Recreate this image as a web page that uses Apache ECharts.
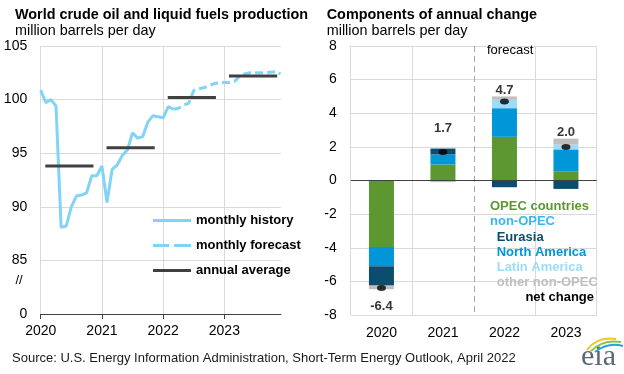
<!DOCTYPE html>
<html><head><meta charset="utf-8">
<script src="https://cdn.jsdelivr.net/npm/echarts@6/dist/echarts.min.js"></script>
<style>html,body{margin:0;padding:0;background:#fff}#c{width:624px;height:374px}</style>
</head><body><div id="c"></div>
<script>
// ---------- Left panel data ----------
const years = ['2020', '2021', '2022', '2023'];
const monthly2020 = [100.9, 99.7, 100.0, 99.4, 88.1, 88.2, 90.0, 91.0, 91.1, 91.3, 92.9, 92.9];
const monthly2021 = [93.8, 90.4, 93.5, 93.9, 94.8, 95.3, 96.9, 96.4, 96.55, 97.9, 98.5, 98.4];
const monthly2022 = [98.3, 99.35, 99.1, 99.2, 99.5, 99.65, 100.85, 101.0, 101.1, 101.3, 101.5, 101.55];
const monthly2023 = [101.6, 101.6, 101.7, 102.2, 102.4, 102.5, 102.5, 102.5, 102.5, 102.55, 102.6, 102.4];
const historyMonthCount = 27; // Jan 2020 - Mar 2022 are history
const annualAverage = [93.8, 95.5, 100.2, 102.2];
const leftYTicks = [80, 85, 90, 95, 100, 105];
const leftYTickLabels = ['0', '85', '90', '95', '100', '105'];

// ---------- Right panel data ----------
const opecCountries = [-3.95, 0.95, 2.6, 0.55];
const northAmerica = [-1.15, 0.6, 1.7, 1.3];
const eurasia = [-1.15, 0.35, -0.4, -0.5];
const latinAmerica = [0, 0, 0.5, 0.28];
const otherNonOpec = [-0.22, -0.1, 0.2, 0.36];
const netChange = [-6.4, 1.7, 4.7, 2.0];

// ---------- styles ----------
const FONT = '"Liberation Sans", Arial, Helvetica, sans-serif';
const C_GREEN = '#5d9732', C_NA = '#0096d7', C_EUR = '#0c4d6d', C_LAT = '#9ddcf7', C_OTH = '#bfbfbf';
const C_LINE = '#82d4f6', C_AVG = '#404040', C_GRID = '#d9d9d9';
const netLabelDy = [18, -23, -11.5, -14.4];
const ICON_SOLID = 'path://M0,0H38V3H0Z';
const ICON_DASH = 'path://M0,0H16V3H0Z M21,0H38V3H21Z';

const monthly = monthly2020.concat(monthly2021, monthly2022, monthly2023);
const historyData = [], forecastData = [];
monthly.forEach((v, i) => {
  if (i < historyMonthCount) historyData.push([i, v]);
  if (i >= historyMonthCount - 1) forecastData.push([i, v]);
});
const avgData = [];
annualAverage.forEach((v, i) => {
  avgData.push([12 * i + 0.9, v], [12 * i + 10.35, v], [12 * i + 11, '-']);
});

const chart = echarts.init(document.getElementById('c'), null, {renderer: 'canvas'});

const axisText = {fontSize: 14, color: '#000', fontFamily: FONT};

const option = {
  animation: false,
  backgroundColor: '#fff',
  grid: [
    {left: 40.7, top: 46, width: 240.3, height: 268},
    {left: 350.7, top: 46, width: 246, height: 269}
  ],
  legend: {
    data: [
      {name: 'monthly history', icon: ICON_SOLID},
      {name: 'monthly forecast', icon: ICON_DASH},
      {name: 'annual average', icon: ICON_SOLID}
    ],
    orient: 'vertical', left: 153, top: 214, padding: 0,
    itemWidth: 38, itemHeight: 3, itemGap: 12,
    selectedMode: false,
    textStyle: {fontSize: 13, fontWeight: 'bold', color: '#000', fontFamily: FONT}
  },
  xAxis: [
    {
      gridIndex: 0, type: 'value', min: 0, max: 47.1,
      axisLine: {show: true, onZero: false, lineStyle: {color: '#404040', width: 1}},
      axisTick: {show: true, length: 5, customValues: [0, 12, 24, 36], lineStyle: {color: '#404040'}},
      axisLabel: Object.assign({margin: 10, customValues: [0, 12, 24, 36],
        formatter: v => years[Math.round(v / 12)]}, axisText),
      splitLine: {show: true, lineStyle: {color: C_GRID, width: 1}}
    },
    {
      gridIndex: 1, type: 'category', data: years,
      axisLine: {show: false, onZero: false},
      axisTick: {show: false},
      axisLabel: Object.assign({margin: 11, interval: 0}, axisText),
      splitLine: {show: true, interval: 0, lineStyle: {color: [C_GRID, C_GRID, 'rgba(0,0,0,0)', C_GRID, C_GRID], width: 1}}
    }
  ],
  yAxis: [
    {
      gridIndex: 0, type: 'value', min: 80, max: 105, interval: 5,
      axisLine: {show: false}, axisTick: {show: false},
      axisLabel: Object.assign({margin: 13.5,
        formatter: v => leftYTickLabels[leftYTicks.indexOf(v)]}, axisText),
      splitLine: {show: true, lineStyle: {color: C_GRID, width: 1}}
    },
    {
      gridIndex: 1, type: 'value', min: -8, max: 8, interval: 2,
      axisLine: {show: false}, axisTick: {show: false},
      axisLabel: Object.assign({margin: 14}, axisText),
      splitLine: {show: true, lineStyle: {color: C_GRID, width: 1}}
    }
  ],
  series: [
    {
      name: 'monthly history', type: 'line', xAxisIndex: 0, yAxisIndex: 0,
      data: historyData, symbol: 'none', showSymbol: false,
      lineStyle: {color: C_LINE, width: 3}, itemStyle: {color: C_LINE}, z: 3
    },
    {
      name: 'monthly forecast', type: 'line', xAxisIndex: 0, yAxisIndex: 0,
      data: forecastData, symbol: 'none', showSymbol: false,
      lineStyle: {color: C_LINE, width: 3, type: [8, 4]}, itemStyle: {color: C_LINE}, z: 3
    },
    {
      name: 'annual average', type: 'line', xAxisIndex: 0, yAxisIndex: 0,
      data: avgData, symbol: 'none', showSymbol: false, connectNulls: false,
      lineStyle: {color: C_AVG, width: 3}, itemStyle: {color: C_AVG}, z: 4
    },
    {
      name: 'OPEC countries', type: 'bar', stack: 'chg', xAxisIndex: 1, yAxisIndex: 1,
      data: opecCountries, barWidth: 25, itemStyle: {color: C_GREEN},
      markLine: {
        silent: true, symbol: 'none', label: {show: false},
        lineStyle: {color: '#404040', width: 1, type: 'solid'},
        data: [{yAxis: 0}], z: 5
      }
    },
    {name: 'North America', type: 'bar', stack: 'chg', xAxisIndex: 1, yAxisIndex: 1,
      data: northAmerica, barWidth: 25, itemStyle: {color: C_NA}},
    {name: 'Eurasia', type: 'bar', stack: 'chg', xAxisIndex: 1, yAxisIndex: 1,
      data: eurasia, barWidth: 25, itemStyle: {color: C_EUR}},
    {name: 'Latin America', type: 'bar', stack: 'chg', xAxisIndex: 1, yAxisIndex: 1,
      data: latinAmerica, barWidth: 25, itemStyle: {color: C_LAT}},
    {name: 'other non-OPEC', type: 'bar', stack: 'chg', xAxisIndex: 1, yAxisIndex: 1,
      data: otherNonOpec, barWidth: 25, itemStyle: {color: C_OTH}},
    {
      name: 'net change', type: 'scatter', xAxisIndex: 1, yAxisIndex: 1, z: 10,
      symbol: 'circle', symbolSize: [9, 6], itemStyle: {color: '#000'},
      data: netChange.map((v, i) => ({
        value: v,
        label: {show: true, position: 'inside', offset: [0, netLabelDy[i]],
          formatter: p => p.value.toFixed(1),
          fontSize: 13, fontWeight: 'bold', color: '#000', fontFamily: FONT}
      }))
    }
  ]
};
chart.setOption(option);

// dashed forecast divider between 2021 and 2022, from the library's scales
const xa = chart.convertToPixel({xAxisIndex: 1}, '2021');
const xb = chart.convertToPixel({xAxisIndex: 1}, '2022');
const xm = Math.round((xa + xb) / 2) + 0.5;
const yTop = chart.convertToPixel({yAxisIndex: 1}, 8);
const yBot = chart.convertToPixel({yAxisIndex: 1}, -8);

function txt(x, y, text, opts) {
  opts = opts || {};
  return {
    type: 'text', x: x, y: y, z: 20, silent: true,
    style: {
      text: text, fill: opts.fill || '#000',
      fontSize: opts.size || 14, fontWeight: opts.weight || 'normal',
      fontFamily: opts.family || FONT, fontStyle: opts.style || 'normal',
      align: opts.align || 'left', verticalAlign: 'middle',
      textAlign: opts.align || 'left', textVerticalAlign: 'middle'
    }
  };
}

const graphics = [
  txt(15, 15, 'World crude oil and liquid fuels production', {size: 14.4, weight: 'bold'}),
  txt(15, 31, 'million barrels per day', {size: 14.4}),
  txt(326.7, 15, 'Components of annual change', {size: 14.4, weight: 'bold'}),
  txt(326.7, 31, 'million barrels per day', {size: 14.4}),
  txt(19, 280.5, '//', {size: 13, align: 'center'}),
  txt(xm + 12.5, 50, 'forecast', {size: 13}),
  txt(490, 206, 'OPEC countries', {size: 13, weight: 'bold', fill: C_GREEN}),
  txt(490, 221.7, 'non-OPEC', {size: 13, weight: 'bold', fill: '#35b8ee'}),
  txt(496.7, 237.3, 'Eurasia', {size: 13, weight: 'bold', fill: C_EUR}),
  txt(496.7, 252.3, 'North America', {size: 13, weight: 'bold', fill: C_NA}),
  txt(496.7, 267.3, 'Latin America', {size: 13, weight: 'bold', fill: C_LAT}),
  txt(496.7, 282.3, 'other non-OPEC', {size: 13, weight: 'bold', fill: C_OTH}),
  txt(594, 297.3, 'net change', {size: 13, weight: 'bold', align: 'right'}),
  txt(12, 358, 'Source: U.S. Energy Information Administration, Short-Term Energy Outlook, April 2022', {size: 13, fill: '#1a1a1a'}),
  txt(581, 357, 'eia', {size: 30, family: '"Liberation Serif", "DejaVu Serif", serif', fill: '#5a6775'}),
  {type: 'bezierCurve', z: 20, silent: true,
    shape: {x1: 587, y1: 350, cpx1: 597, cpy1: 336, x2: 616, y2: 339},
    style: {stroke: '#f2c230', lineWidth: 2, fill: null}},
  {type: 'bezierCurve', z: 20, silent: true,
    shape: {x1: 591, y1: 351, cpx1: 603, cpy1: 339, x2: 621, y2: 342},
    style: {stroke: '#8cc641', lineWidth: 2, fill: null}},
  {type: 'bezierCurve', z: 20, silent: true,
    shape: {x1: 595, y1: 352, cpx1: 608, cpy1: 342, x2: 623, y2: 346},
    style: {stroke: '#2aa3dc', lineWidth: 2, fill: null}},
  {type: 'line', z: 1, silent: true,
    shape: {x1: xm, y1: yTop, x2: xm, y2: yBot},
    style: {stroke: '#a6a6a6', lineWidth: 1, lineDash: [6, 4]}}
];
chart.setOption({graphic: {elements: graphics}});
</script>
</body></html>
